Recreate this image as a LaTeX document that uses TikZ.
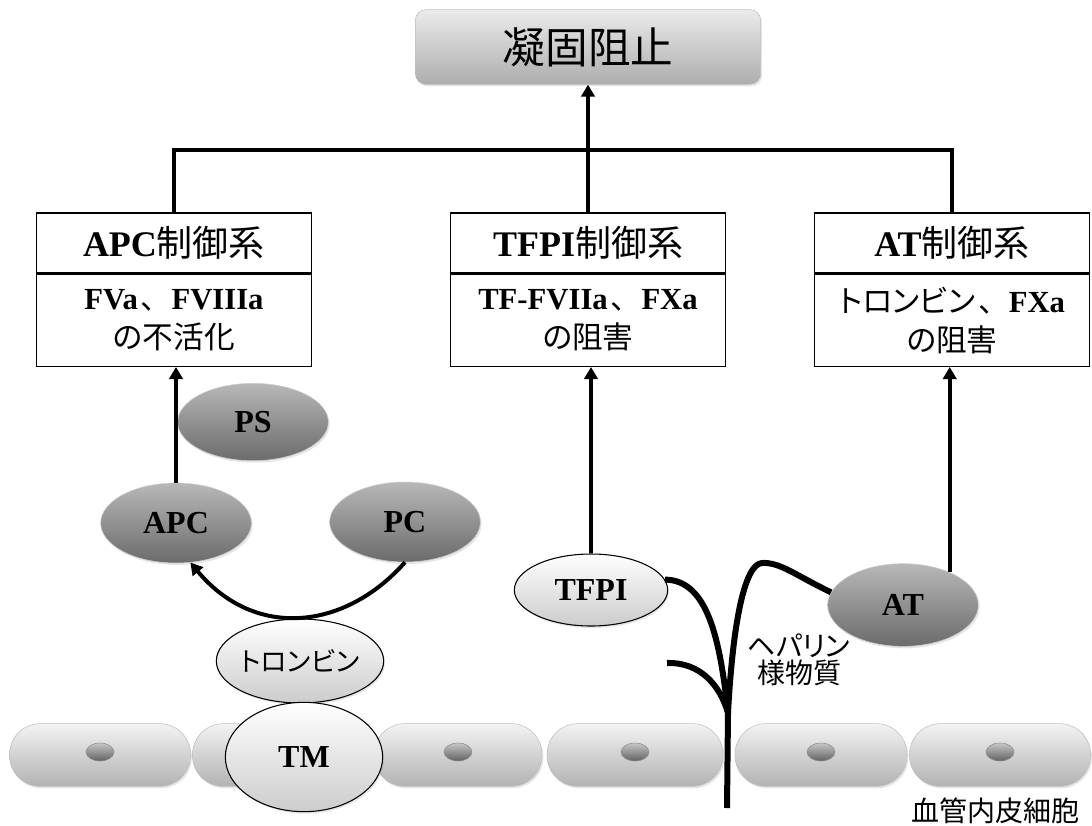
\documentclass[tikz,border=0pt]{standalone}
\usepackage{fontspec}
\setmainfont{Liberation Serif}
\newfontfamily\jp[RawFeature={+palt}]{Noto Sans CJK JP}
\newfontfamily\jpfull{Noto Sans CJK JP}
\newcommand\jtxt[1]{{\jp\mdseries #1}}
\newcommand\jcomma{\hspace{0.1em}{\jpfull\mdseries 、}}
\usetikzlibrary{positioning,arrows.meta,shapes.geometric,shadows}

\tikzset{
  arr/.style={line width=3pt,-{Triangle[length=9pt,width=10pt]}},
  conn/.style={line width=3pt},
  heparin/.style={line width=4.5pt,line join=round},
  softshadow/.style={drop shadow={opacity=0.2,shadow xshift=1pt,shadow yshift=-1.5pt}},
  goalbox/.style={draw=black!25,rounded corners=8pt,softshadow,top color=black!8,middle color=black!20,bottom color=black!32,
    minimum width=259pt,minimum height=56pt,font=\jp\fontsize{32}{36}\selectfont},
  ctrlhead/.style={draw,line width=1pt,fill=white,minimum width=206pt,minimum height=45pt,
    font=\fontsize{27}{30}\selectfont\bfseries},
  ctrlbody/.style={draw,line width=1pt,fill=white,minimum width=206pt,minimum height=69pt,align=center,
    font=\fontsize{23}{29}\selectfont},
  darkmol/.style={ellipse,draw=black!20,inner sep=0pt,softshadow,top color=black!28,middle color=black!45,bottom color=black!58,
    minimum width=113pt,minimum height=60pt,font=\fontsize{24}{26}\selectfont\bfseries},
  lightmol/.style={ellipse,draw,line width=0.8pt,inner sep=0pt,softshadow,top color=white,middle color=black!10,bottom color=black!20,
    minimum width=115pt,minimum height=54pt,font=\fontsize{24}{26}\selectfont\bfseries},
  cell/.style={draw=black!25,rounded corners=23pt,softshadow,top color=black!5,middle color=black!16,bottom color=black!30,
    minimum height=47pt},
  nucleus/.style={ellipse,draw=black!45,inner sep=0pt,top color=black!22,bottom color=black!62,
    minimum width=21pt,minimum height=13.5pt}
}

\begin{document}
\begin{tikzpicture}[x=0.75pt,y=-0.75pt]
  \useasboundingbox (0,0) rectangle (1092,825);
  \foreach \cx/\w [count=\i] in {100/181, 281/177, 458/168, 635/176, 821/172, 1000/181} {
    \node[cell,minimum width=\w*0.75pt] (c\i) at (\cx,755) {};
    \node[nucleus] (n\i) at (\cx,752) {};
  }
  \node[goalbox] (goal) at (588,47) {凝固阻止};
  \node[ctrlhead] (apch) at (174,243) {APC\jtxt{制御系}};
  \node[ctrlbody,below=0pt of apch] (apcb) {\textbf{FVa}\jcomma\textbf{FVIIIa}\\\jtxt{の不活化}};
  \node[ctrlhead] (tfpih) at (588,243) {TFPI\jtxt{制御系}};
  \node[ctrlbody,below=0pt of tfpih] (tfpib) {\textbf{TF-FVIIa}\jcomma\textbf{FXa}\\\jtxt{の阻害}};
  \node[ctrlhead] (ath) at (952,243) {AT\jtxt{制御系}};
  \node[ctrlbody,below=0pt of ath] (atb) {\jtxt{トロンビン}\jcomma\textbf{FXa}\\\jtxt{の阻害}};
  \coordinate (jl) at (174,150);
  \coordinate (jm) at (588,150);
  \coordinate (jr) at (952,150);
  \draw[conn] (apch.north) -- (jl) -- (jr) -- (ath.north);
  \draw[conn] (tfpih.north) -- (jm);
  \draw[arr] (jm) -- (goal.south);
  \node[darkmol,minimum height=58pt] (ps) at (253,422) {PS};
  \node[darkmol] (apc) at (176,523) {APC};
  \node[darkmol] (pc) at (405,522) {PC};
  \node[darkmol,minimum height=62pt] (at) at (903,605) {AT};
  \node[lightmol] (tfpi) at (591,590) {TFPI};
  \node[lightmol,minimum height=63pt,font=\jp\fontsize{20}{22}\selectfont] (thr) at (300,661) {トロンビン};
  \node[lightmol,minimum width=118pt,minimum height=82pt] (tm) at (304,757) {TM};
  \draw[arr] (apc.north) -- (apc.north |- apcb.south);
  \draw[arr] (tfpi.north) -- (tfpi.north |- tfpib.south);
  \draw[arr] (at.35) -- (at.35 |- atb.south);
  \draw[arr] (pc.south) .. controls (345,630) and (255,640) .. (apc.290);
  \coordinate (root) at (728,713);
  \coordinate (hbase) at (727,808);
  \coordinate (hfree) at (667,663);
  \draw[heparin] (tfpi.8) .. controls (708,580) and (720,640) .. (root) -- (hbase);
  \draw[heparin] (at.170) .. controls (795,575) and (780,562) .. (762,563) .. controls (745,564) and (733,620) .. (root);
  \draw[heparin] (hfree) .. controls (700,662) and (720,685) .. (root);
  \node[font=\jp\fontsize{21}{20}\selectfont,align=center] (hlab) at (799,660) {ヘパリン\\様物質};
  \node[font=\jp\fontsize{21}{24}\selectfont] (endo) at (995,811) {血管内皮細胞};
\end{tikzpicture}
\end{document}
